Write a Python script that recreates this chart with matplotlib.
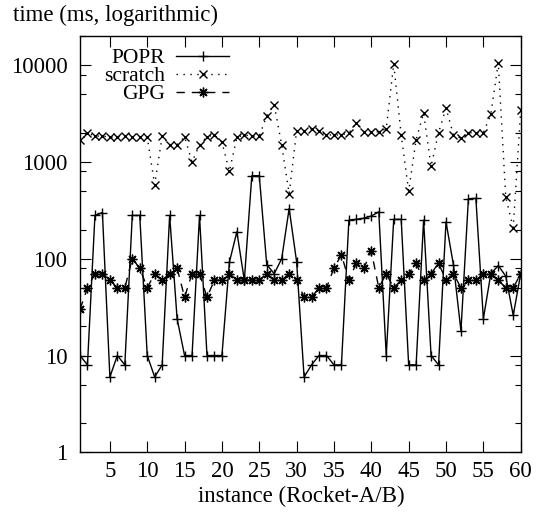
import numpy as np
import matplotlib
matplotlib.use("Agg")
import matplotlib.pyplot as plt
from matplotlib.ticker import FixedLocator, NullFormatter

plt.rcParams['font.family'] = ['Liberation Serif', 'DejaVu Serif']
plt.rcParams['font.size'] = 16.5

# instance numbers 1..60
instances = list(range(1, 61))

# timings in ms
popr = [10, 8, 280, 300, 6, 10, 8, 280, 280, 10,
        6, 8, 280, 24, 10, 10, 280, 10, 10, 10,
        92, 190, 60, 720, 720, 87, 70, 100, 330, 93,
        6, 8, 10, 10, 8, 8, 250, 255, 262, 276,
        305, 10, 255, 255, 8, 8, 250, 10, 8, 240,
        86, 18, 417, 420, 24, 70, 85, 66, 26, 70]

scratch = [1700, 2000, 1850, 1850, 1800, 1820, 1850, 1820, 1820, 1800,
           580, 1850, 1500, 1500, 1820, 1000, 1500, 1820, 1900, 1600,
           800, 1800, 1900, 1850, 1850, 3000, 3900, 1500, 470, 2100,
           2100, 2200, 2100, 1900, 1900, 1900, 2000, 2500, 2050, 2050,
           2050, 2200, 10300, 1900, 500, 1700, 3200, 900, 2000, 3600,
           1900, 1750, 2000, 2000, 2000, 3100, 10600, 430, 210, 3400]

gpg = [30, 50, 70, 70, 60, 50, 50, 100, 80, 50,
       70, 60, 70, 80, 40, 70, 70, 40, 60, 60,
       70, 60, 60, 60, 60, 70, 60, 60, 70, 60,
       40, 40, 50, 50, 80, 110, 60, 90, 80, 120,
       50, 70, 50, 60, 70, 90, 60, 70, 90, 60,
       70, 50, 60, 60, 70, 70, 60, 50, 50, 70]

series_names = ['POPR', 'scratch', 'GPG']

fig = plt.figure(figsize=(5.46, 5.12), dpi=100)
ax = fig.add_axes([80/546, 1-452.3/512, 440.7/546, 416.3/512])

lw = 1.0
ast = (8, 2, 0)  # gnuplot style asterisk
ax.plot(instances, popr, color='black', lw=lw, marker='+', ms=7, mew=1.0)
ax.plot(instances, scratch, color='black', lw=lw, ls=(0, (1, 4)),
        marker='x', ms=5.5, mew=1.0)
ax.plot(instances, gpg, color='black', lw=lw, ls=(0, (6, 5)),
        marker=ast, ms=7, mew=1.0)

ax.set_yscale('log')
ax.set_xlim(1, 60)
ax.set_ylim(1, 20000)

ax.set_xticks([5, 10, 15, 20, 25, 30, 35, 40, 45, 50, 55, 60])
ax.set_yticks([1, 10, 100, 1000, 10000])
ax.set_yticklabels(['1', '10', '100', '1000', '10000'])
minors = [m * 10**e for e in range(0, 5) for m in (2, 5, 8)]
ax.yaxis.set_minor_locator(FixedLocator(minors))
ax.yaxis.set_minor_formatter(NullFormatter())
ax.xaxis.set_minor_locator(FixedLocator([]))

ax.tick_params(which='both', direction='in', top=True, right=True)
ax.tick_params(which='major', length=8, width=0.8)
ax.tick_params(axis='y', which='major', pad=9)
ax.tick_params(axis='x', which='major', pad=6)
ax.tick_params(which='minor', length=4.3, width=0.8)
for s in ax.spines.values():
    s.set_linewidth(1.0)

# gnuplot-like legend: label right-aligned, sample to the right
markers = ['+', 'x', ast]
styles = ['-', (0, (1, 4)), (0, (6, 5))]
ys = [0.952, 0.9088, 0.8655]
for name, mk, st, yy in zip(series_names, markers, styles, ys):
    ax.text(0.193, yy, name, transform=ax.transAxes, ha='right',
            va='center_baseline', fontsize=15.5)
    ax.plot([0.2178, 0.338], [yy, yy], transform=ax.transAxes,
            color='black', lw=lw, ls=st)
    ax.plot([0.278], [yy], transform=ax.transAxes, color='black',
            marker=mk, ms=7 if mk != 'x' else 5.5, mew=1.0)

fig.text(13/546, 1-15/512, 'time (ms, logarithmic)', ha='left', va='center')
fig.text(301/546, 1-496/512, 'instance (Rocket-A/B)', ha='center', va='center')

fig.savefig('out.png', dpi=100)
